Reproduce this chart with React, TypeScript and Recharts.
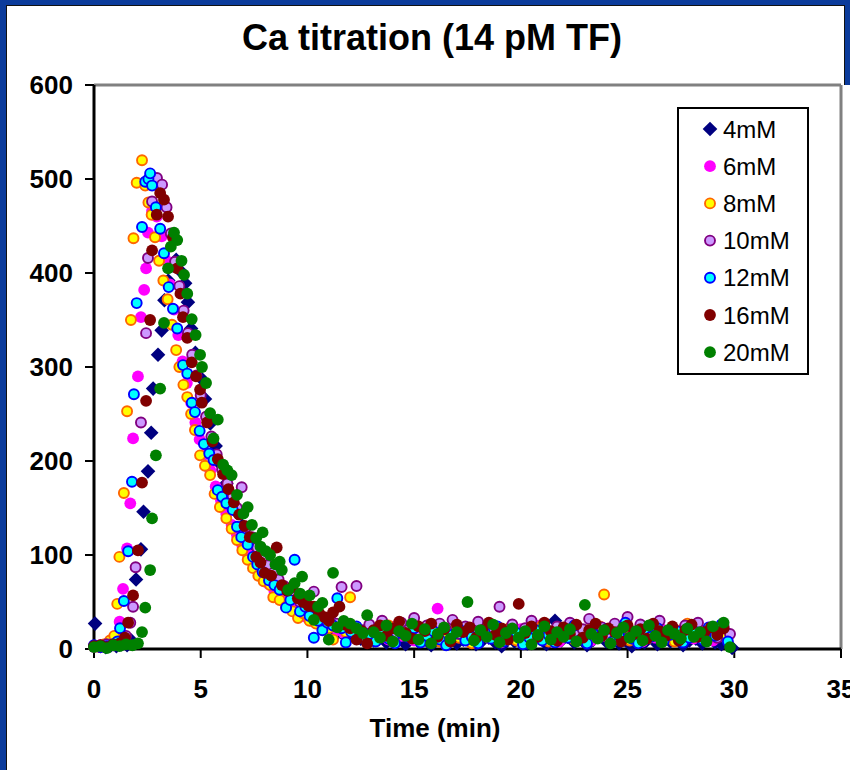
import { ReferenceLine, Scatter, ScatterChart, XAxis, YAxis } from 'recharts'

type Pt = [number, number]

const FONT = '"Liberation Sans", Arial, Helvetica, sans-serif'

const timeTicks = [0, 5, 10, 15, 20, 25, 30, 35]
const signalTicks = [0, 100, 200, 300, 400, 500, 600]
const seriesNames = ['4mM', '6mM', '8mM', '10mM', '12mM', '16mM', '20mM']

// [time (min), signal] for each Ca concentration
const ca4: Pt[] = [
  [0.05, 27], [0.3, 3], [0.55, 2], [0.8, 4], [1.05, 3], [1.3, 5], [1.55, 4], [1.75, 9], [1.97, 74], [2.2, 106],
  [2.32, 146], [2.53, 189], [2.68, 230], [2.77, 277], [3.0, 313], [3.17, 339], [3.3, 371], [3.48, 392], [3.66, 408], [3.85, 414],
  [4.05, 402], [4.27, 389], [4.4, 369], [4.55, 341], [4.75, 315], [4.97, 289], [5.2, 266], [5.45, 240], [5.7, 216], [5.95, 196],
  [6.2, 176], [6.45, 161], [6.7, 145], [6.95, 131], [7.2, 119], [7.45, 107], [7.7, 97], [7.95, 88], [8.2, 80], [8.45, 72],
  [8.7, 65], [8.95, 58], [9.2, 52], [9.45, 47], [9.7, 42], [9.95, 38], [10.2, 33], [10.45, 29], [10.7, 26], [10.95, 23],
  [11.2, 20], [11.45, 18], [11.7, 15], [11.95, 13], [12.2, 16], [12.5, 11], [12.8, 14], [13.1, 9], [13.4, 12], [13.7, 7],
  [14.0, 15], [14.3, 10], [14.6, 5], [14.9, 13], [15.2, 8], [15.5, 11], [15.8, 4], [16.1, 12], [16.4, 9], [16.7, 14],
  [17.0, 6], [17.3, 10], [17.6, 13], [17.9, 5], [18.2, 9], [18.5, 12], [18.8, 7], [19.1, 3], [19.4, 11], [19.7, 8],
  [20.0, 14], [20.3, 6], [20.6, 10], [20.9, 12], [21.2, 5], [21.6, 30], [21.9, 9], [22.2, 13], [22.5, 7], [22.8, 11],
  [23.1, 4], [23.4, 10], [23.7, 14], [24.0, 8], [24.3, 12], [24.6, 6], [24.9, 9], [25.2, 3], [25.5, 11], [25.8, 7],
  [26.1, 13], [26.4, 5], [26.7, 10], [27.0, 8], [27.3, 12], [27.6, 4], [27.9, 9], [28.2, 11], [28.5, 6], [28.8, 10],
  [29.1, 7], [29.4, 5], [29.9, 1],
]

const ca6: Pt[] = [
  [0.0, 2], [0.3, 4], [0.6, 3], [0.9, 6], [1.05, 12], [1.2, 29], [1.36, 64], [1.55, 107], [1.7, 155], [1.83, 224],
  [2.06, 290], [2.2, 353], [2.35, 382], [2.44, 405], [2.53, 443], [2.72, 466], [2.94, 460], [3.17, 439], [3.36, 414], [3.55, 388],
  [3.75, 361], [3.95, 334], [4.15, 306], [4.35, 283], [4.55, 262], [4.75, 241], [4.95, 223], [5.2, 207], [5.45, 190], [5.7, 173],
  [5.95, 158], [6.2, 144], [6.45, 132], [6.7, 121], [6.95, 110], [7.2, 101], [7.45, 92], [7.7, 84], [7.95, 76], [8.2, 69],
  [8.45, 62], [8.7, 56], [8.95, 51], [9.2, 46], [9.45, 41], [9.7, 37], [9.95, 34], [10.2, 30], [10.5, 27], [10.8, 24],
  [11.1, 28], [11.4, 20], [11.7, 17], [12.0, 22], [12.3, 15], [12.6, 19], [12.9, 13], [13.2, 21], [13.5, 16], [13.8, 10],
  [14.1, 24], [14.4, 14], [14.7, 19], [15.0, 9], [15.3, 22], [15.6, 15], [15.9, 12], [16.1, 43], [16.4, 18], [16.7, 11],
  [17.0, 20], [17.3, 14], [17.6, 8], [17.9, 17], [18.2, 23], [18.5, 12], [18.8, 16], [19.1, 7], [19.4, 19], [19.7, 13],
  [20.0, 21], [20.3, 10], [20.6, 16], [20.9, 25], [21.2, 11], [21.5, 18], [21.8, 8], [22.1, 15], [22.4, 20], [22.7, 12],
  [23.0, 17], [23.3, 9], [23.6, 22], [23.9, 14], [24.2, 18], [24.5, 10], [24.8, 24], [25.1, 13], [25.4, 16], [25.7, 8],
  [26.0, 19], [26.3, 12], [26.6, 21], [26.9, 15], [27.2, 10], [27.5, 17], [27.8, 22], [28.1, 11], [28.4, 16], [28.7, 20],
  [29.0, 9], [29.3, 14], [29.6, 18],
]

const ca8: Pt[] = [
  [0.0, 3], [0.25, 2], [0.5, 5], [0.75, 9], [0.95, 14], [1.09, 48], [1.19, 98], [1.4, 166], [1.55, 253], [1.73, 350],
  [1.85, 437], [2.0, 496], [2.25, 520], [2.4, 493], [2.55, 475], [2.7, 462], [2.86, 438], [3.05, 413], [3.25, 392], [3.45, 372],
  [3.65, 345], [3.85, 318], [4.0, 300], [4.19, 281], [4.37, 268], [4.55, 250], [4.73, 233], [4.97, 206], [5.2, 195], [5.44, 185],
  [5.65, 165], [5.9, 151], [6.2, 139], [6.45, 128], [6.7, 116], [6.95, 105], [7.2, 95], [7.45, 86], [7.7, 78], [7.95, 72],
  [8.25, 68], [8.4, 55], [8.7, 52], [9.0, 45], [9.3, 40], [9.56, 33], [9.8, 38], [10.1, 30], [10.4, 27], [10.7, 33],
  [11.0, 22], [11.2, 10], [11.5, 25], [11.8, 18], [12.0, 55], [12.3, 20], [12.6, 14], [12.9, 18], [13.2, 22], [13.5, 14],
  [13.8, 25], [14.1, 12], [14.4, 20], [14.7, 16], [15.0, 28], [15.3, 10], [15.6, 18], [15.9, 22], [16.2, 8], [16.5, 15],
  [16.8, 24], [17.1, 12], [17.4, 19], [17.7, 6], [18.0, 21], [18.3, 14], [18.6, 26], [18.9, 10], [19.2, 17], [19.5, 23],
  [19.8, 9], [20.1, 15], [20.4, 20], [20.7, 12], [21.0, 25], [21.3, 8], [21.6, 18], [21.9, 14], [22.2, 22], [22.5, 10],
  [22.8, 16], [23.1, 20], [23.4, 13], [23.7, 24], [23.9, 58], [24.2, 11], [24.5, 17], [24.8, 21], [25.1, 9], [25.4, 15],
  [25.7, 19], [26.0, 12], [26.3, 23], [26.6, 14], [26.9, 18], [27.2, 8], [27.5, 20], [27.8, 27], [28.1, 13], [28.4, 17],
  [28.7, 10], [29.0, 15], [29.3, 21], [29.6, 12],
]

const ca10: Pt[] = [
  [0.0, 3], [0.3, 2], [0.6, 5], [0.9, 4], [1.2, 7], [1.5, 14], [1.7, 28], [1.83, 45], [1.95, 87], [2.2, 241],
  [2.44, 336], [2.53, 416], [2.72, 476], [2.95, 501], [3.19, 494], [3.4, 470], [3.6, 442], [3.8, 412], [4.0, 386], [4.2, 360],
  [4.4, 336], [4.6, 313], [4.8, 291], [5.0, 270], [5.25, 247], [5.5, 226], [5.75, 207], [6.0, 191], [6.25, 176], [6.5, 162],
  [6.7, 150], [6.92, 172], [7.15, 130], [7.4, 119], [7.65, 108], [7.9, 98], [8.15, 89], [8.4, 81], [8.65, 74], [8.9, 67],
  [9.15, 61], [9.4, 55], [9.65, 50], [9.9, 45], [10.15, 41], [10.3, 61], [10.5, 37], [10.8, 33], [11.1, 30], [11.35, 27],
  [11.6, 66], [11.85, 24], [12.1, 22], [12.3, 67], [12.6, 20], [12.9, 26], [13.2, 18], [13.5, 30], [13.8, 22], [14.1, 15],
  [14.4, 28], [14.7, 20], [15.0, 33], [15.3, 17], [15.6, 25], [15.9, 12], [16.2, 27], [16.5, 21], [16.8, 31], [17.1, 16],
  [17.4, 24], [17.7, 19], [18.0, 29], [18.3, 14], [18.6, 23], [19.0, 45], [19.3, 18], [19.6, 26], [19.9, 13], [20.2, 22],
  [20.5, 30], [20.8, 17], [21.1, 25], [21.4, 11], [21.7, 24], [22.0, 19], [22.3, 28], [22.6, 15], [22.9, 21], [23.2, 32],
  [23.5, 16], [23.8, 23], [24.1, 12], [24.4, 27], [24.7, 20], [25.0, 34], [25.3, 18], [25.6, 26], [25.9, 14], [26.2, 24],
  [26.5, 30], [26.8, 17], [27.1, 22], [27.4, 13], [27.7, 25], [28.0, 19], [28.3, 28], [28.6, 15], [28.9, 21], [29.2, 12],
  [29.5, 24], [29.8, 16],
]

const ca12: Pt[] = [
  [0.0, 4], [0.3, 2], [0.6, 3], [0.9, 5], [1.1, 8], [1.22, 22], [1.4, 51], [1.6, 104], [1.78, 178], [1.87, 271],
  [2.0, 368], [2.25, 449], [2.4, 497], [2.55, 500], [2.63, 506], [2.72, 493], [2.9, 470], [3.1, 447], [3.28, 421], [3.5, 385],
  [3.7, 362], [3.9, 341], [4.17, 302], [4.37, 293], [4.58, 262], [4.73, 252], [4.95, 232], [5.15, 218], [5.4, 208], [5.6, 201],
  [5.8, 169], [6.0, 162], [6.2, 155], [6.5, 148], [6.7, 130], [6.9, 119], [7.2, 111], [7.45, 98], [7.65, 90], [7.9, 82],
  [8.2, 73], [8.45, 68], [8.7, 63], [9.0, 44], [9.2, 52], [9.4, 95], [9.65, 40], [9.9, 45], [10.1, 35], [10.3, 12],
  [10.5, 30], [10.7, 20], [10.95, 28], [11.2, 25], [11.4, 54], [11.6, 22], [11.8, 7], [12.05, 18], [12.3, 24], [12.6, 12],
  [12.9, 16], [13.2, 8], [13.5, 20], [13.8, 11], [14.1, 6], [14.4, 17], [14.7, 13], [15.0, 22], [15.3, 7], [15.6, 14],
  [15.9, 19], [16.2, 10], [16.5, 4], [16.8, 15], [17.1, 21], [17.4, 9], [17.7, 13], [18.0, 6], [18.3, 18], [18.6, 11],
  [18.9, 24], [19.2, 8], [19.5, 14], [19.8, 17], [20.1, 5], [20.4, 12], [20.7, 20], [21.0, 9], [21.3, 15], [21.6, 7],
  [21.9, 18], [22.2, 12], [22.5, 25], [22.8, 10], [23.1, 6], [23.4, 16], [23.7, 13], [24.0, 21], [24.3, 8], [24.6, 14],
  [24.9, 28], [25.2, 11], [25.5, 6], [25.8, 17], [26.1, 13], [26.4, 22], [26.7, 9], [27.0, 15], [27.3, 19], [27.6, 7],
  [27.9, 12], [28.2, 18], [28.5, 10], [28.8, 23], [29.1, 14], [29.4, 26], [29.7, 8],
]

const ca16: Pt[] = [
  [0.0, 3], [0.3, 4], [0.6, 2], [0.9, 5], [1.2, 6], [1.45, 12], [1.6, 28], [1.83, 57], [2.06, 105], [2.25, 177],
  [2.44, 264], [2.63, 350], [2.72, 424], [2.94, 462], [3.1, 485], [3.28, 478], [3.47, 460], [3.7, 438], [3.9, 405], [4.05, 378],
  [4.17, 353], [4.37, 331], [4.58, 305], [4.78, 290], [4.97, 276], [5.05, 262], [5.3, 241], [5.55, 221], [5.8, 202], [6.05, 186],
  [6.3, 170], [6.55, 156], [6.8, 143], [7.05, 131], [7.3, 119], [7.6, 98], [7.8, 92], [8.0, 81], [8.3, 78], [8.56, 108],
  [8.8, 68], [9.05, 62], [9.3, 66], [9.55, 54], [9.8, 50], [10.05, 46], [10.3, 45], [10.55, 38], [10.8, 34], [11.0, 30],
  [11.2, 39], [11.5, 45], [11.75, 26], [12.0, 22], [12.3, 10], [12.55, 19], [12.8, 6], [13.1, 20], [13.4, 25], [13.7, 14],
  [14.0, 22], [14.3, 29], [14.6, 17], [14.9, 11], [15.2, 24], [15.5, 19], [15.8, 27], [16.1, 13], [16.4, 21], [16.7, 8],
  [17.0, 26], [17.3, 18], [17.6, 23], [17.9, 12], [18.2, 20], [18.5, 28], [18.8, 15], [19.1, 22], [19.4, 10], [19.9, 48],
  [20.2, 17], [20.5, 24], [20.8, 13], [21.1, 28], [21.4, 19], [21.7, 9], [22.0, 23], [22.3, 16], [22.6, 26], [22.9, 12],
  [23.2, 20], [23.5, 27], [23.8, 14], [24.1, 22], [24.4, 18], [24.7, 8], [25.0, 25], [25.3, 16], [25.6, 21], [25.9, 11],
  [26.2, 27], [26.5, 19], [26.8, 14], [27.1, 24], [27.4, 9], [27.7, 20], [28.0, 26], [28.3, 13], [28.6, 18], [28.9, 23],
  [29.2, 15], [29.5, 22],
]

const ca20: Pt[] = [
  [0.0, 2], [0.3, 3], [0.6, 1], [0.9, 4], [1.2, 3], [1.5, 5], [1.8, 4], [2.06, 6], [2.25, 18], [2.4, 44],
  [2.63, 84], [2.72, 139], [2.9, 206], [3.1, 277], [3.28, 347], [3.47, 405], [3.6, 428], [3.75, 443], [3.9, 435], [4.1, 413],
  [4.22, 398], [4.37, 378], [4.58, 351], [4.76, 334], [4.97, 313], [5.06, 300], [5.25, 283], [5.44, 251], [5.6, 224], [5.8, 244],
  [6.05, 196], [6.25, 190], [6.45, 185], [6.7, 164], [7.0, 144], [7.2, 151], [7.4, 132], [7.6, 118], [7.8, 109], [7.9, 124],
  [8.05, 104], [8.25, 100], [8.5, 90], [8.7, 93], [8.8, 84], [9.1, 63], [9.4, 70], [9.65, 59], [9.75, 77], [10.1, 57],
  [10.3, 31], [10.5, 45], [10.7, 49], [11.0, 10], [11.2, 81], [11.4, 23], [11.7, 30], [12.0, 27], [12.3, 22], [12.6, 17],
  [12.8, 36], [13.1, 18], [13.4, 12], [13.7, 25], [14.0, 8], [14.3, 19], [14.6, 14], [14.9, 27], [15.2, 10], [15.5, 21],
  [15.8, 6], [16.1, 16], [16.4, 23], [16.7, 11], [17.0, 18], [17.5, 50], [17.8, 9], [18.1, 20], [18.4, 13], [18.7, 26],
  [19.0, 7], [19.3, 17], [19.6, 22], [19.9, 12], [20.2, 19], [20.5, 5], [20.8, 15], [21.1, 24], [21.4, 10], [21.7, 18],
  [22.0, 13], [22.3, 21], [22.6, 8], [23.0, 47], [23.3, 16], [23.6, 11], [23.9, 20], [24.2, 6], [24.5, 17], [24.8, 23],
  [25.1, 12], [25.4, 19], [25.7, 9], [26.0, 25], [26.3, 14], [26.6, 7], [26.9, 20], [27.2, 16], [27.5, 11], [27.8, 22],
  [28.1, 13], [28.4, 18], [28.7, 8], [29.0, 24], [29.5, 28], [29.8, 2],
]

const seriesData = [ca4, ca6, ca8, ca10, ca12, ca16, ca20]

type MarkerStyle = { diamond?: boolean; fill: string; stroke?: string }

const markers: MarkerStyle[] = [
  { diamond: true, fill: '#000080' },
  { fill: '#ff00ff' },
  { fill: '#ffff00', stroke: '#ff6600' },
  { fill: '#cc99ff', stroke: '#800080' },
  { fill: '#00ffff', stroke: '#0000ff' },
  { fill: '#800000' },
  { fill: '#008000' },
]

function Marker({ cx, cy, m }: { cx: number; cy: number; m: MarkerStyle }) {
  if (cx == null || cy == null) return null
  if (m.diamond) {
    const d = 7.3
    return <polygon points={`${cx},${cy - d} ${cx + d},${cy} ${cx},${cy + d} ${cx - d},${cy}`} fill={m.fill} />
  }
  if (m.stroke) {
    return <circle cx={cx} cy={cy} r={5} fill={m.fill} stroke={m.stroke} strokeWidth={1.9} />
  }
  return <circle cx={cx} cy={cy} r={5.9} fill={m.fill} />
}

const tickFont = { fill: '#000', fontSize: 26, fontWeight: 700, fontFamily: FONT }

export default function App() {
  return (
    <div style={{ position: 'relative', width: 850, height: 770, background: '#0b3b9b', overflow: 'hidden' }}>
      <style>{'body{margin:0}'}</style>
      {/* white slide panel */}
      <div
        style={{
          position: 'absolute',
          left: 6,
          top: 5,
          width: 839,
          height: 765,
          background: '#fff',
          borderLeft: '1px solid #111',
          borderTop: '1px solid #111',
          borderRight: '1px solid #111',
          boxSizing: 'border-box',
        }}
      />
      <div style={{ position: 'absolute', left: 840, top: 85, width: 10, height: 685, background: '#fff' }} />

      <div style={{ position: 'absolute', left: 0, top: 0 }}>
        <ScatterChart width={850} height={770} margin={{ top: 85, right: 9, bottom: 61, left: 14 }}>
          <XAxis
            type="number"
            dataKey="t"
            domain={[0, 35]}
            ticks={timeTicks}
            interval={0}
            height={60}
            tick={tickFont}
            tickSize={9}
            tickMargin={22}
            tickLine={{ stroke: '#000', strokeWidth: 2 }}
            axisLine={{ stroke: '#000', strokeWidth: 3 }}
          />
          <YAxis
            type="number"
            dataKey="y"
            domain={[0, 600]}
            ticks={signalTicks}
            interval={0}
            width={80}
            tick={tickFont}
            tickSize={9}
            tickMargin={12}
            tickLine={{ stroke: '#000', strokeWidth: 2 }}
            axisLine={{ stroke: '#000', strokeWidth: 3 }}
          />
          <ReferenceLine y={600} stroke="#808080" strokeWidth={3} />
          <ReferenceLine x={35} stroke="#808080" strokeWidth={3} />
          {seriesData.map((pts, i) => (
            <Scatter
              key={seriesNames[i]}
              name={seriesNames[i]}
              data={pts.map(([t, y]) => ({ t, y }))}
              isAnimationActive={false}
              shape={(p: any) => <Marker cx={p.cx} cy={p.cy} m={markers[i]} />}
            />
          ))}
        </ScatterChart>
      </div>

      <svg width={850} height={770} style={{ position: 'absolute', left: 0, top: 0, pointerEvents: 'none' }}>
        <text x={432} y={50} textAnchor="middle" fontFamily={FONT} fontSize={36} fontWeight={700} fill="#000">
          Ca titration (14 pM TF)
        </text>
        <text x={435} y={737} textAnchor="middle" fontFamily={FONT} fontSize={26} fontWeight={700} fill="#000">
          Time (min)
        </text>
        <rect x={678} y={108} width={130} height={266} fill="#fff" stroke="#000" strokeWidth={2} />
        {seriesNames.map((name, i) => {
          const cy = 129 + i * 37.2
          return (
            <g key={name}>
              <Marker cx={710} cy={cy} m={markers[i]} />
              <text x={723} y={cy + 8.5} fontFamily={FONT} fontSize={24} fill="#000">
                {name}
              </text>
            </g>
          )
        })}
      </svg>
    </div>
  )
}
